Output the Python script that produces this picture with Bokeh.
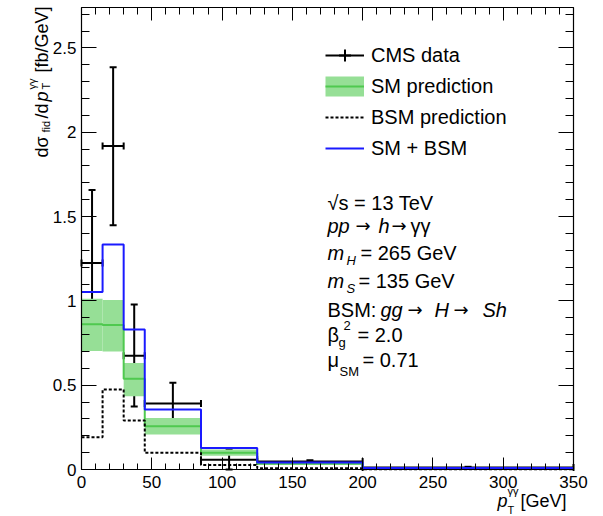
import math
from bokeh.plotting import figure
from bokeh.models import (Range1d, LinearAxis, SingleIntervalTicker, NumeralTickFormatter,
                          CustomJSTickFormatter, Label, Legend, LegendItem, ColumnDataSource,
                          Whisker, TeeHead)
from bokeh.embed import file_html
from bokeh.resources import INLINE

# ---------------- data ----------------
bin_edges = [0, 15, 30, 45, 85, 125, 200, 350]
sm_central = [0.862, 0.857, 0.538, 0.257, 0.100, 0.034, 0.007]
sm_low = [0.703, 0.700, 0.435, 0.208, 0.082, 0.029, 0.005]
sm_high = [1.013, 1.005, 0.631, 0.305, 0.118, 0.040, 0.009]
bsm_pred = [0.192, 0.475, 0.291, 0.099, 0.027, 0.008, 0.002]
sm_plus_bsm = [1.053, 1.334, 0.831, 0.356, 0.127, 0.042, 0.009]
cms_data = [1.225, 1.918, 0.675, 0.392, 0.058, 0.047, 0.012]
cms_up = [1.657, 2.385, 0.978, 0.515, 0.120, 0.055, 0.016]
cms_down = [0.790, 1.449, 0.374, 0.271, 0.000, 0.039, 0.008]
legend_labels = ["CMS data", "SM prediction", "BSM prediction", "SM + BSM"]

# ---------------- layout constants ----------------
W, H = 603, 516
FL, FR, FT, FB = 81, 573, 7, 469       # axes box in pixels
XMAX, YMAX = 350.0, 2.74
SX = XMAX / (FR - FL)                   # data units per pixel
SY = YMAX / (FB - FT)
FONT = "Liberation Sans"
BAND = "#96df96"
GREEN = "#4fc94f"
BLUE = "#1a1aff"

# the plotting frame covers the whole canvas; the box is drawn by four fixed axes
p = figure(width=W, height=H,
           x_range=Range1d(-FL * SX, (W - FL) * SX),
           y_range=Range1d(-(H - FB) * SY, FB * SY),
           output_backend="svg", toolbar_location=None,
           x_axis_type=None, y_axis_type=None, min_border=0)
p.min_border_left = p.min_border_right = p.min_border_top = p.min_border_bottom = 0
p.outline_line_color = None
p.background_fill_color = "white"
p.border_fill_color = "white"


def style_axis(ax, maj, mnr, labels=True):
    ax.major_tick_in = maj
    ax.major_tick_out = 0
    ax.minor_tick_in = mnr
    ax.minor_tick_out = 0
    ax.axis_line_color = "black"
    ax.axis_line_width = 1.2
    ax.major_tick_line_color = "black"
    ax.minor_tick_line_color = "black"
    ax.major_label_text_font = FONT
    ax.major_label_text_font_size = "17px"
    ax.major_label_text_color = "black"
    ax.major_label_standoff = 5
    if not labels:
        ax.formatter = CustomJSTickFormatter(code="return ''")


xt = lambda: SingleIntervalTicker(interval=50, num_minor_ticks=5)
yt = lambda: SingleIntervalTicker(interval=0.5, num_minor_ticks=5)

bottom = LinearAxis(ticker=xt(), fixed_location=0, bounds=(0, XMAX))
style_axis(bottom, 12, 6)
bottom.major_label_standoff = 6
p.add_layout(bottom, "below")

left = LinearAxis(ticker=yt(), formatter=NumeralTickFormatter(format="0.[0]"),
                  fixed_location=0, bounds=(0, YMAX))
style_axis(left, 15, 8)
p.add_layout(left, "left")

top = LinearAxis(ticker=xt(), fixed_location=YMAX, bounds=(0, XMAX))
style_axis(top, 13, 7, labels=False)
p.add_layout(top, "above")

right = LinearAxis(ticker=yt(), fixed_location=XMAX, bounds=(0, YMAX))
style_axis(right, 15, 8, labels=False)
p.add_layout(right, "right")

# ---------------- histograms ----------------
lefts = bin_edges[:-1]
rights = bin_edges[1:]
centers = [(a + b) / 2 for a, b in zip(lefts, rights)]

band_src = ColumnDataSource(dict(left=lefts, right=rights, bottom=sm_low, top=sm_high))
p.quad(left="left", right="right", bottom="bottom", top="top", source=band_src,
       fill_color=BAND, line_color=None)

step_src = ColumnDataSource(dict(
    x=bin_edges,
    sm=sm_central + [sm_central[-1]],
    bsm=bsm_pred + [bsm_pred[-1]],
    tot=sm_plus_bsm + [sm_plus_bsm[-1]],
))
r_sm = p.step(x="x", y="sm", source=step_src, mode="after", line_color=GREEN, line_width=2)
r_bsm = p.step(x="x", y="bsm", source=step_src, mode="after", line_color="black",
               line_width=2, line_dash="3 2")
r_tot = p.step(x="x", y="tot", source=step_src, mode="after", line_color=BLUE, line_width=2)

# ---------------- data points ----------------
d_src = ColumnDataSource(dict(xc=centers, y=cms_data, lo=cms_down, hi=cms_up,
                              left=lefts, right=rights))


def tee():
    return TeeHead(size=7, line_width=2, line_color="black")


vw = Whisker(source=d_src, base="xc", lower="lo", upper="hi", dimension="height",
             line_color="black", line_width=2, upper_head=tee(), lower_head=tee())
hw = Whisker(source=d_src, base="y", lower="left", upper="right", dimension="width",
             line_color="black", line_width=2, upper_head=tee(), lower_head=tee())
p.add_layout(vw)
p.add_layout(hw)

# ---------------- legend (proxy renderers placed off-canvas) ----------------
off = dict(x=[-1e4, -1e4 + 1], y=[-1e4, -1e4])
leg_line = p.line(x=off["x"], y=off["y"], line_color="black", line_width=2)
leg_cross = p.scatter(x=off["x"][:1], y=off["y"][:1], marker="cross", size=14,
                      line_color="black", line_width=2)
leg_band = p.line(x=off["x"], y=off["y"], line_color=BAND, line_width=20, line_cap="butt")
legend = Legend(items=[
    LegendItem(label=legend_labels[0], renderers=[leg_line, leg_cross]),
    LegendItem(label=legend_labels[1], renderers=[leg_band, r_sm]),
    LegendItem(label=legend_labels[2], renderers=[r_bsm]),
    LegendItem(label=legend_labels[3], renderers=[r_tot]),
], location=(325, H - 163), padding=0, margin=0, spacing=1,
    glyph_width=39, glyph_height=30, label_height=30, label_standoff=7,
    label_text_font=FONT, label_text_font_size="20px", label_text_color="black",
    border_line_color=None, background_fill_alpha=0)
p.add_layout(legend)

# ---------------- text helpers ----------------
def px2data(px, py):
    return (px - FL) * SX, (FB - py) * SY


def txt(s, px, py, size=20, italic=False, angle=0.0, font=FONT):
    x, y = px2data(px, py)
    p.add_layout(Label(x=x, y=y, text=s, text_font=font, text_font_size=f"{size}px",
                       text_font_style="italic" if italic else "normal",
                       text_color="black", text_align="left", text_baseline="alphabetic",
                       angle=angle))


ARROW_FONT = "DejaVu Sans"

# y axis title: dσ_fid/dp_T^γγ [fb/GeV]
R = math.pi / 2
txt("dσ", 41, 157, 18, angle=R)
txt("fid", 45.5, 132, 11, angle=R)
txt("/d", 41, 118, 18, angle=R)
txt("p", 41, 101, 18, italic=True, angle=R)
txt("T", 45, 89, 11, angle=R)
txt("γγ", 31, 89, 11, angle=R)
txt("[fb/GeV]", 41, 72, 18, angle=R)

# x axis title: p_T^γγ [GeV]
txt("p", 497, 500, 18, italic=True)
txt("T", 507, 509, 11)
txt("γγ", 507, 490, 11)
txt("[GeV]", 520, 500, 18)

# annotation block
txt("√s = 13 TeV", 327, 202)
txt("pp", 327, 225, italic=True)
txt("→", 355, 225, 18, font=ARROW_FONT)
txt("h", 378, 225, italic=True)
txt("→", 391, 225, 18, font=ARROW_FONT)
txt("γγ", 410, 225)
txt("m", 327, 252, italic=True)
txt("H", 346, 260, 13, italic=True)
txt("= 265 GeV", 360, 252)
txt("m", 327, 280, italic=True)
txt("S", 346, 288, 13, italic=True)
txt("= 135 GeV", 358, 280)
txt("BSM:", 327, 309)
txt("gg", 380, 309, italic=True)
txt("→", 407, 309, 18, font=ARROW_FONT)
txt("H", 434, 309, italic=True)
txt("→", 453, 309, 18, font=ARROW_FONT)
txt("Sh", 482, 309, italic=True)
txt("β", 327, 334)
txt("g", 338, 342, 13)
txt("2", 343, 325, 13)
txt("= 2.0", 357, 334)
txt("μ", 327, 359)
txt("SM", 339, 371, 13)
txt("= 0.71", 362, 359)

open("out.html", "w").write(file_html(p, INLINE))
